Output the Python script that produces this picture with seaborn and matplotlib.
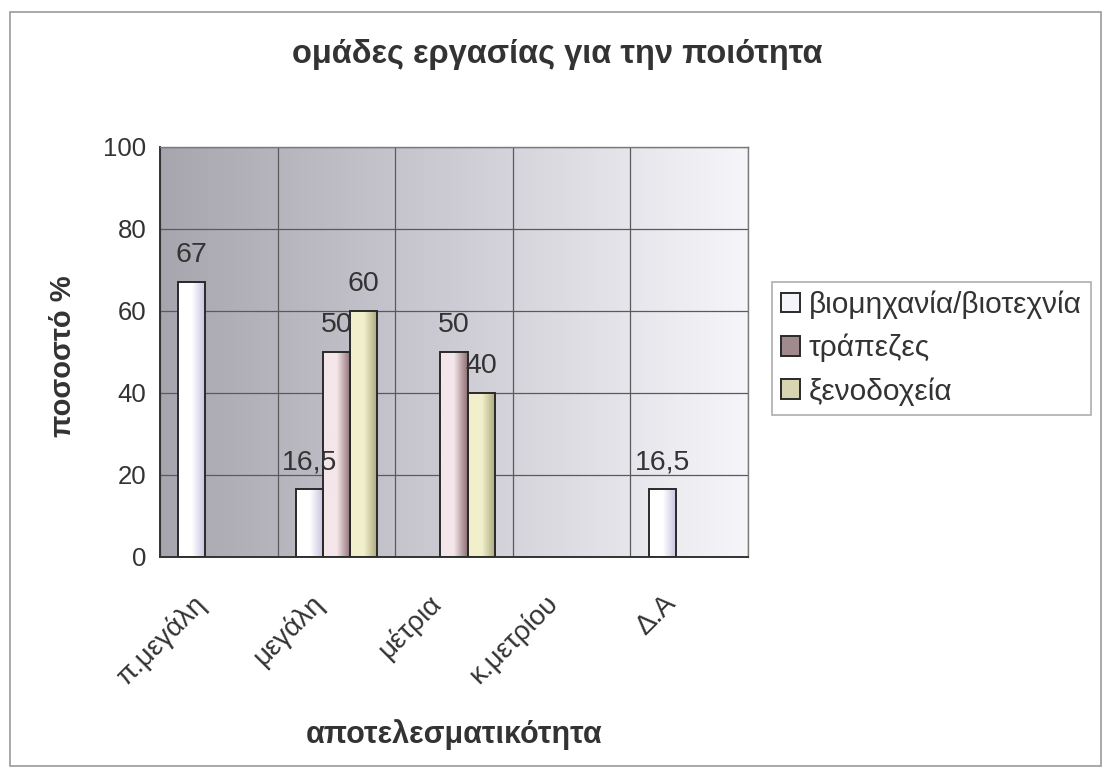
import numpy as np
import pandas as pd
import matplotlib
matplotlib.use("Agg")
import matplotlib.pyplot as plt
from matplotlib.colors import LinearSegmentedColormap
from matplotlib.patches import Rectangle
from matplotlib.transforms import ScaledTranslation
import seaborn as sns

# --- data -------------------------------------------------------------
categories = ["π.μεγάλη", "μεγάλη", "μέτρια", "κ.μετρίου", "Δ.Α"]
series_names = ["βιομηχανία/βιοτεχνία", "τράπεζες", "ξενοδοχεία"]
industry = [67, 16.5, 0, 0, 16.5]
banks = [0, 50, 50, 0, 0]
hotels = [0, 60, 40, 0, 0]
y_ticks = [0, 20, 40, 60, 80, 100]

title = "ομάδες εργασίας για την ποιότητα"
x_label = "αποτελεσματικότητα"
y_label = "ποσοστό %"

df = pd.DataFrame({
    "category": categories * 3,
    "series": [series_names[0]] * 5 + [series_names[1]] * 5 + [series_names[2]] * 5,
    "value": industry + banks + hotels,
})

sns.set_theme(style="white")
plt.rcParams["font.family"] = ["Liberation Sans", "DejaVu Sans"]

text_color = "#333333"

# bar fills: light edge on the left, darker tone on the right
bar_gradients = {
    series_names[0]: ("#ffffff", "#c4c0df"),
    series_names[1]: ("#f4e6ea", "#8e6f73"),
    series_names[2]: ("#f2f0cc", "#a9a67a"),
}
legend_colors = {
    series_names[0]: "#f4f4fa",
    series_names[1]: "#a08a8e",
    series_names[2]: "#d8d6b0",
}

fig = plt.figure(figsize=(11.04, 7.72), dpi=100)
fig.patch.set_facecolor("white")

# outer chart frame
fig.patches.append(Rectangle((0.009, 0.008), 0.988, 0.977, transform=fig.transFigure,
                             fill=False, edgecolor="#9a9a9a", linewidth=1.2))

pos = [0.145, 0.2785, 0.5325, 0.5315]

# plot-area background: horizontal grey-to-white gradient
bg = fig.add_axes(pos, zorder=0)
bg_cmap = LinearSegmentedColormap.from_list("bg", ["#a7a6ae", "#cdccd4", "#f6f6fa"])
bg.imshow(np.linspace(0, 1, 256)[None, :], aspect="auto", cmap=bg_cmap,
          extent=[0, 1, 0, 1])
bg.set_axis_off()

ax = fig.add_axes(pos, zorder=1)
ax.set_facecolor("none")

sns.barplot(data=df, x="category", y="value", hue="series", order=categories,
            hue_order=series_names, palette=legend_colors, width=0.69,
            edgecolor="#2a2a2a", linewidth=1.4, ax=ax, legend=False, zorder=3)

ax.set_xlim(-0.5, len(categories) - 0.5)
ax.set_ylim(0, 100)

# gradient fill inside each bar, clipped to the bar shape
for cont, name in zip(ax.containers, series_names):
    c0, c1 = bar_gradients[name]
    cmap = LinearSegmentedColormap.from_list(name, [c0, c0, c1])
    for rect in cont:
        h = rect.get_height()
        if h <= 0:
            rect.set_visible(False)
            continue
        x0 = rect.get_x()
        w = rect.get_width()
        im = ax.imshow(np.linspace(0, 1, 64)[None, :], aspect="auto", cmap=cmap,
                       extent=[x0, x0 + w, 0, h], zorder=3.5)
        im.set_clip_path(rect)
        rect.set_facecolor("none")
        rect.set_zorder(4)

    labels = [("" if v == 0 else (f"{v:g}".replace(".", ","))) for v in
              [r.get_height() for r in cont]]
    ax.bar_label(cont, labels=labels, padding=10, fontsize=20.5, color=text_color, zorder=5)

ax.set_xlim(-0.5, len(categories) - 0.5)
ax.set_ylim(0, 100)

# grid: horizontal at y ticks, vertical at category boundaries
ax.set_yticks(y_ticks)
ax.set_xticks(range(len(categories)))
ax.set_xticks(np.arange(-0.5, len(categories), 1.0), minor=True)
ax.grid(True, axis="y", which="major", color="#5a5a5a", linewidth=0.9, zorder=1)
ax.grid(True, axis="x", which="minor", color="#5a5a5a", linewidth=0.9, zorder=1)
ax.grid(False, axis="x", which="major")
ax.set_axisbelow(True)

ax.tick_params(axis="x", which="major", length=0, pad=10)
ax.tick_params(axis="x", which="minor", length=7, width=1.2, color=text_color, direction="out")
ax.tick_params(axis="y", which="major", length=8, width=1.2, color=text_color,
               direction="out", labelsize=18.5, labelcolor=text_color, pad=2)
ax.set_xticklabels(categories, rotation=45, ha="right", rotation_mode="anchor",
                   fontsize=20, color=text_color)
shift = ScaledTranslation(-27 / 100, -19 / 100, fig.dpi_scale_trans)
for lbl in ax.get_xticklabels():
    lbl.set_transform(lbl.get_transform() + shift)

for side in ["left", "bottom"]:
    ax.spines[side].set_color(text_color)
    ax.spines[side].set_linewidth(1.4)
for side in ["top", "right"]:
    ax.spines[side].set_color("#7a7a7a")
    ax.spines[side].set_linewidth(1.0)

ax.set_xlabel(x_label, fontsize=22, fontweight="bold", color=text_color)
ax.set_ylabel(y_label, fontsize=21, fontweight="bold", color=text_color)
ax.xaxis.set_label_coords(0.5, -0.395)
ax.yaxis.set_label_coords(-0.141, 0.49)

fig.text(0.505, 0.929, title, ha="center", va="center", fontsize=23.5,
         fontweight="bold", color=text_color)

# legend with square swatches
handles = [Rectangle((0, 0), 1, 1, facecolor=legend_colors[n], edgecolor="#2a2a2a",
                     linewidth=1.4) for n in series_names]
leg = fig.legend(handles, series_names, loc="center left",
                 bbox_to_anchor=(0.699, 0.549), fontsize=21.5, frameon=True,
                 fancybox=False, edgecolor="#9a9a9a", handlelength=0.65,
                 handleheight=0.65, handletextpad=0.3, labelspacing=0.5,
                 borderpad=0.3, borderaxespad=0, labelcolor=text_color)
leg.get_frame().set_linewidth(1.2)

fig.savefig("out.png", dpi=100, facecolor="white")
